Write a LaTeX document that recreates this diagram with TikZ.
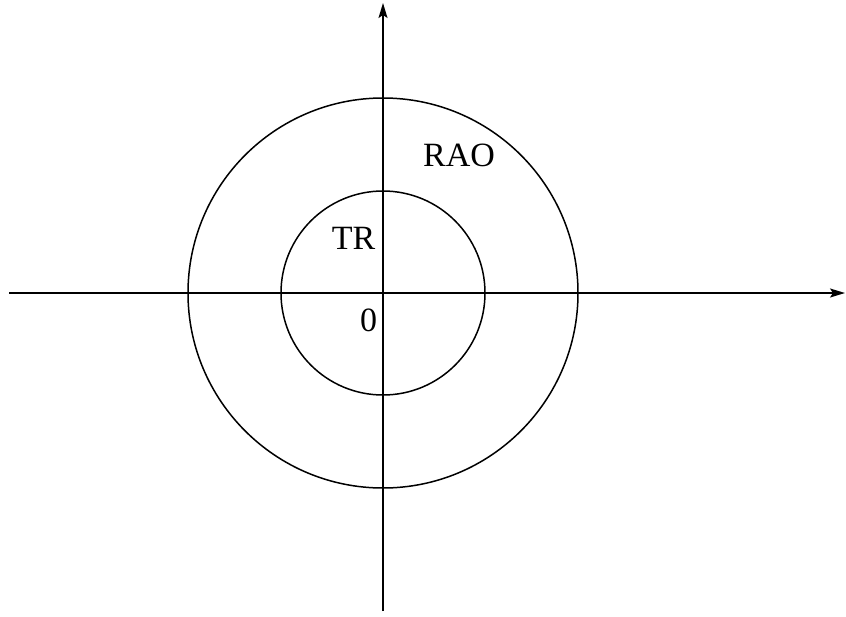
\documentclass[tikz,border=0pt]{standalone}
\usepackage{fontspec}
\setmainfont{Liberation Serif}
\usepackage{tikz}
\usetikzlibrary{positioning, arrows.meta}

\tikzset{
    axis/.style={line width=1.6pt, -{Stealth[length=15pt, width=9pt, inset=3pt]}},
    ring/.style={line width=1.5pt},
    region/.style={inner sep=0pt, font=\fontsize{34}{40}\selectfont}
}

\begin{document}
\begin{tikzpicture}[x=1pt, y=-1pt]
    \useasboundingbox (0,0) rectangle (846,616);
    % --- axes ---
    \coordinate (O) at (383,293);
    \coordinate (xl) at (9,293);
    \coordinate (xr) at (845,293);
    \coordinate (yb) at (383,611);
    \coordinate (yt) at (383,3);
    \draw[axis] (xl) -- (xr);
    \draw[axis] (yb) -- (yt);
    % --- circles ---
    \draw[ring] (O) circle[radius=195pt];
    \draw[ring] (O) circle[radius=102pt];
    % --- labels ---
    \node[region] (rao) at (459,155) {RAO};
    \node[region] (tr) at (353.5,238.5) {TR};
    \node[region] (zero) at (368.5,320.5) {0};
\end{tikzpicture}
\end{document}
